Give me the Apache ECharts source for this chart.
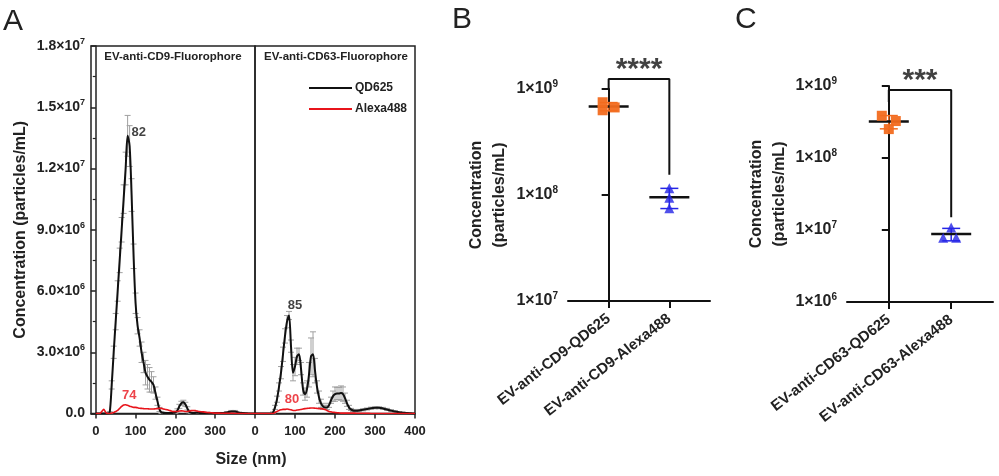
<!DOCTYPE html>
<html>
<head>
<meta charset="utf-8">
<script src="https://cdn.jsdelivr.net/npm/echarts@6/dist/echarts.min.js"></script>
<style>
  html, body { margin: 0; background: #fff; }
  #chart { width: 999px; height: 476px; }
</style>
</head>
<body>
<div id="chart"></div>
<script>
// ---- panel A: size distributions (values in 10^6 particles/mL) ----
const sizes = [0, 5, 10, 15, 20, 25, 30, 35, 40, 45,
  50, 55, 60, 65, 70, 75, 80, 85, 90, 95,
  100, 105, 110, 115, 120, 125, 130, 135, 140, 145,
  150, 155, 160, 165, 170, 175, 180, 185, 190, 195,
  200, 205, 210, 215, 220, 225, 230, 235, 240, 245,
  250, 255, 260,
  270, 280, 290, 300, 310, 320, 330, 340, 350, 360,
  370, 380, 390, 400]

const cd9QD625 = [0, 0, 0, 0, 0, 0, 0, 0.05, 1.4, 3.0,
  4.5, 6.0, 7.5, 9.0, 10.5, 12.0, 13.6, 13.1, 10.7, 7.7,
  5.4, 4.3, 3.7, 3.0, 2.5, 2.0, 1.8, 1.65, 1.55, 1.4,
  1.0, 0.6, 0.2, 0.05, 0.03, 0.02, 0.02, 0.02, 0.02, 0.03,
  0.06, 0.15, 0.35, 0.5, 0.55, 0.45, 0.25, 0.08, 0.03, 0.02,
  0.03, 0.04, 0.03,
  0.02, 0.03, 0.02, 0.02, 0.02, 0.02, 0.05, 0.1, 0.1, 0.04,
  0.02, 0.01, 0, 0]
const cd9QD625Sd = [0, 0, 0, 0, 0, 0, 0, 0.05, 0.2, 0.3,
  0.4, 0.5, 0.6, 0.6, 0.7, 0.8, 1.0, 1.0, 0.8, 0.6,
  0.5, 0.4, 0.4, 0.5, 0.5, 0.6, 0.6, 0.6, 0.5, 0.4,
  0.3, 0.2, 0.1, 0.05, 0.03, 0.03, 0.03, 0.03, 0.03, 0.03,
  0.05, 0.08, 0.1, 0.1, 0.1, 0.1, 0.08, 0.05, 0.03, 0.03,
  0.03, 0.03, 0.03,
  0.03, 0.03, 0.03, 0.03, 0.03, 0.03, 0.04, 0.05, 0.05, 0.03,
  0.02, 0.02, 0, 0]
const cd9Alexa488 = [0, 0, 0, 0.1, 0.2, 0.05, 0, 0, 0.02, 0.05,
  0.1, 0.15, 0.25, 0.35, 0.42, 0.43, 0.4, 0.36, 0.33, 0.3,
  0.3, 0.28, 0.26, 0.25, 0.24, 0.23, 0.23, 0.22, 0.22, 0.22,
  0.23, 0.24, 0.25, 0.25, 0.22, 0.2, 0.18, 0.15, 0.12, 0.1,
  0.1, 0.1, 0.12, 0.13, 0.12, 0.1, 0.1, 0.12, 0.14, 0.15,
  0.14, 0.12, 0.1,
  0.08, 0.05, 0.04, 0.02, 0.02, 0.01, 0.01, 0.01, 0, 0,
  0, 0, 0, 0]

const cd63QD625 = [0, 0, 0, 0, 0, 0, 0, 0, 0, 0.05,
  0.3, 0.7, 1.3, 2.0, 2.9, 3.8, 4.5, 4.8, 3.3, 2.0,
  2.3, 2.8, 2.9, 2.2, 1.2, 0.95, 1.2, 1.9, 2.8, 2.9,
  2.1, 1.3, 0.8, 0.5, 0.35, 0.3, 0.3, 0.4, 0.65, 0.85,
  0.95, 0.98, 0.98, 1.0, 0.95, 0.75, 0.5, 0.3, 0.2, 0.15,
  0.14, 0.14, 0.15,
  0.18, 0.22, 0.26, 0.28, 0.28, 0.25, 0.2, 0.14, 0.1, 0.06,
  0.04, 0.02, 0.01, 0]
const cd63QD625Sd = [0, 0, 0, 0, 0, 0, 0, 0, 0, 0.03,
  0.1, 0.15, 0.2, 0.3, 0.35, 0.35, 0.3, 0.2, 0.3, 0.4,
  0.45, 0.4, 0.3, 0.3, 0.3, 0.3, 0.4, 0.6, 0.9, 1.1,
  0.6, 0.3, 0.3, 0.2, 0.15, 0.1, 0.1, 0.1, 0.15, 0.25,
  0.35, 0.3, 0.3, 0.35, 0.35, 0.25, 0.15, 0.1, 0.05, 0.05,
  0.05, 0.05, 0.05,
  0.05, 0.05, 0.05, 0.05, 0.05, 0.05, 0.05, 0.05, 0.04, 0.03,
  0.02, 0.02, 0.01, 0]
const cd63Alexa488 = [0, 0, 0, 0, 0, 0, 0, 0, 0, 0,
  0.05, 0.1, 0.15, 0.18, 0.2, 0.2, 0.22, 0.2, 0.18, 0.15,
  0.15, 0.17, 0.18, 0.2, 0.22, 0.24, 0.25, 0.26, 0.27, 0.27,
  0.26, 0.25, 0.24, 0.24, 0.22, 0.2, 0.15, 0.1, 0.08, 0.06,
  0.05, 0.04, 0.03, 0.02, 0.02, 0.02, 0.02, 0.02, 0.02, 0.02,
  0.02, 0.01, 0.01,
  0.01, 0.01, 0, 0, 0, 0, 0, 0, 0, 0,
  0, 0, 0, 0]

// peak annotations [size, value in 10^6]
const cd9Peaks = [[82, 13.75], [74, 0.43]]
const cd63Peaks = [[85, 4.82], [80, 0.24]]

const sizeTicks = [0, 100, 200, 300]
const concTicks = 3e6

// ---- panels B / C: concentration per replicate ----
const bCats = ['EV-anti-CD9-QD625', 'EV-anti-CD9-Alexa488']
const bQD625 = [7.5e8, 6.3e8, 6.7e8]
const bAlexa488 = [1.16e8, 0.94e8, 0.75e8]
const bSig = '****'
const bBracket = [9.8e8, 1.24e9, 1.55e8]

const cCats = ['EV-anti-CD63-QD625', 'EV-anti-CD63-Alexa488']
const cQD625 = [3.86e8, 3.26e8, 2.52e8]
const cAlexa488 = [1.08e7, 7.8e6, 7.8e6]
const cSig = '***'
const cBracket = [6.0e8, 8.8e8, 1.5e7]

// horizontal spread of replicate dots (px)
const bQDJitter = [-6, -6, 6]
const bAlexaJitter = [0, 0, 0]
const cQDJitter = [-7, 7, 0]
const cAlexaJitter = [0, -8, 5]

const FONT = "'Liberation Sans', Arial, sans-serif"
const ORANGE = '#f26b1f'
const BLUE = '#2424e6'
const M = 1e6

function pairs(xs, ys) {
  return xs.map((x, i) => [x, ys[i] * M])
}
function withSd(xs, ys, sd) {
  return xs.map((x, i) => [x, ys[i] * M, sd[i] * M])
}
function mean(a) {
  return a.reduce((s, v) => s + v, 0) / a.length
}
function sd(a) {
  const m = mean(a)
  return Math.sqrt(a.reduce((s, v) => s + (v - m) * (v - m), 0) / (a.length - 1))
}

function sciLabel(v) {
  if (v === 0) return '{b|0.0}'
  const e = Math.floor(Math.log10(v) + 1e-9)
  return '{b|' + (v / Math.pow(10, e)).toFixed(1) + '×10}{s|' + e + '}'
}
function logLabel(v) {
  return '{b|1×10}{s|' + Math.round(Math.log10(v)) + '}'
}
function richSci(size, supSize) {
  return {
    b: { fontSize: size, fontWeight: 'bold', fontFamily: FONT, color: '#222', lineHeight: size + 4 },
    s: { fontSize: supSize, fontWeight: 'bold', fontFamily: FONT, color: '#222', lineHeight: supSize, verticalAlign: 'top' }
  }
}

// grey error bars for the size distributions
function errorBarItem(params, api) {
  const x = api.value(0)
  const y = api.value(1)
  const e = api.value(2)
  if (!e) return
  const top = api.coord([x, y + e])
  const bot = api.coord([x, Math.max(y - e, 0)])
  const w = 3
  const st = { stroke: '#a0a0a0', lineWidth: 1 }
  return {
    type: 'group',
    children: [
      { type: 'line', shape: { x1: top[0], y1: top[1], x2: bot[0], y2: bot[1] }, style: st },
      { type: 'line', shape: { x1: top[0] - w, y1: top[1], x2: top[0] + w, y2: top[1] }, style: st },
      { type: 'line', shape: { x1: bot[0] - w, y1: bot[1], x2: bot[0] + w, y2: bot[1] }, style: st }
    ]
  }
}

// mean line + SD whiskers for the dot plots
function meanSdItem(params, api) {
  const g = api.value(0)
  const m = api.value(1)
  const s = api.value(2)
  const c = api.visual('color')
  const mid = api.coord([g, m])
  const hi = api.coord([g, m + s])
  const lo = api.coord([g, m - s])
  const cap = 9
  const half = 20
  return {
    type: 'group',
    children: [
      { type: 'line', shape: { x1: hi[0], y1: hi[1], x2: lo[0], y2: lo[1] }, style: { stroke: c, lineWidth: 1.5 } },
      { type: 'line', shape: { x1: hi[0] - cap, y1: hi[1], x2: hi[0] + cap, y2: hi[1] }, style: { stroke: c, lineWidth: 1.5 } },
      { type: 'line', shape: { x1: lo[0] - cap, y1: lo[1], x2: lo[0] + cap, y2: lo[1] }, style: { stroke: c, lineWidth: 1.5 } },
      { type: 'line', shape: { x1: mid[0] - half, y1: mid[1], x2: mid[0] + half, y2: mid[1] }, style: { stroke: '#111', lineWidth: 2.5 } }
    ]
  }
}

function dots(group, values, jitter) {
  return values.map((v, i) => ({ value: [group, v], symbolOffset: [jitter[i], 0] }))
}

function lineSeries(name, data, axis, color, width) {
  return {
    name: name,
    type: 'line',
    xAxisIndex: axis,
    yAxisIndex: axis,
    data: data,
    smooth: 0.3,
    symbol: 'none',
    lineStyle: { color: color, width: width },
    itemStyle: { color: color },
    z: 3
  }
}

function peakLabels(peaks, axis, offsets) {
  return {
    type: 'scatter',
    xAxisIndex: axis,
    yAxisIndex: axis,
    symbolSize: 0,
    silent: true,
    z: 5,
    data: peaks.map((p, i) => ({
      value: [p[0], p[1] * M],
      label: {
        show: true,
        formatter: String(p[0]),
        position: offsets[i].pos,
        offset: offsets[i].off,
        distance: 3,
        fontSize: 13,
        fontWeight: 'bold',
        fontFamily: FONT,
        color: i === 0 ? '#111' : '#e8141b'
      }
    }))
  }
}

function dotPanel(idx, cats, qd, alexa, qdJit, alexaJit, bracket, sig) {
  return [
    {
      type: 'custom',
      xAxisIndex: idx, yAxisIndex: idx,
      renderItem: meanSdItem,
      itemStyle: { color: ORANGE },
      data: [[0, mean(qd), sd(qd)]],
      z: 2
    },
    {
      type: 'custom',
      xAxisIndex: idx, yAxisIndex: idx,
      renderItem: meanSdItem,
      itemStyle: { color: BLUE },
      data: [[1, mean(alexa), sd(alexa)]],
      z: 2
    },
    {
      type: 'scatter',
      xAxisIndex: idx, yAxisIndex: idx,
      symbol: 'rect', symbolSize: 10,
      itemStyle: { color: ORANGE, opacity: 0.95 },
      data: dots(0, qd, qdJit),
      z: 4
    },
    {
      type: 'scatter',
      xAxisIndex: idx, yAxisIndex: idx,
      symbol: 'triangle', symbolSize: 10,
      itemStyle: { color: BLUE },
      data: dots(1, alexa, alexaJit),
      z: 4
    },
    {
      type: 'line',
      xAxisIndex: idx, yAxisIndex: idx,
      data: [[0, bracket[0]], [0, bracket[1]], [1, bracket[1]], [1, bracket[2]]],
      symbol: 'none',
      clip: false,
      lineStyle: { color: '#111', width: 2 },
      z: 3
    },
    {
      type: 'scatter',
      xAxisIndex: idx, yAxisIndex: idx,
      symbolSize: 0,
      clip: false,
      silent: true,
      data: [[0.5, bracket[1]]],
      label: {
        show: true, formatter: sig, position: 'top', distance: -6,
        fontSize: 30, fontWeight: 'bold', fontFamily: FONT, color: '#111'
      }
    }
  ]
}

const sizeX = (gi, min, labels) => ({
  type: 'value',
  gridIndex: gi,
  min: min,
  max: 400,
  axisLine: { lineStyle: { color: '#222', width: 1.5 } },
  axisTick: { customValues: labels, length: 5, lineStyle: { color: '#222', width: 1.5 } },
  axisLabel: {
    customValues: labels, margin: 11,
    fontSize: 13, fontWeight: 'bold', fontFamily: FONT, color: '#222'
  },
  splitLine: { show: false }
})

const catX = (gi, cats) => ({
  type: 'value',
  gridIndex: gi,
  min: -0.67,
  max: 1.67,
  axisLine: { lineStyle: { color: '#111', width: 2 } },
  axisTick: { customValues: [0, 1], length: 7, lineStyle: { color: '#111', width: 2 } },
  axisLabel: {
    customValues: [0, 1],
    formatter: v => cats[Math.round(v)],
    rotate: 38, margin: 16,
    fontSize: 15, fontWeight: 'bold', fontFamily: FONT, color: '#222'
  },
  splitLine: { show: false }
})

const logY = (gi, min, gap) => ({
  type: 'log',
  logBase: 10,
  gridIndex: gi,
  min: min,
  max: 1e9,
  name: 'Concentration\n(particles/mL)',
  nameLocation: 'middle',
  nameRotate: 90,
  nameGap: gap,
  nameTextStyle: { fontSize: 16, fontWeight: 'bold', fontFamily: FONT, color: '#222', lineHeight: 23 },
  axisLine: { show: true, lineStyle: { color: '#111', width: 2 } },
  axisTick: { length: 7, lineStyle: { color: '#111', width: 2 } },
  axisLabel: { formatter: logLabel, margin: 10, rich: richSci(16, 10) },
  minorTick: { show: false },
  splitLine: { show: false }
})

const chart = echarts.init(document.getElementById('chart'))

const option = {
  animation: false,
  backgroundColor: '#fff',
  grid: [
    { left: 91, top: 46, width: 164, height: 367.5, show: true, borderColor: '#222', borderWidth: 1.5 },
    { left: 255, top: 46, width: 160, height: 367.5, show: true, borderColor: '#222', borderWidth: 1.5 },
    { left: 568, top: 89, width: 142, height: 212 },
    { left: 847, top: 86, width: 146, height: 216 }
  ],
  legend: {
    data: ['QD625', 'Alexa488'],
    orient: 'vertical',
    left: 309,
    top: 81,
    padding: 0,
    icon: 'rect',
    itemWidth: 43,
    itemHeight: 2,
    itemGap: 7,
    textStyle: { fontSize: 12, fontWeight: 'bold', fontFamily: FONT, color: '#222', padding: [0, 0, 0, -2], lineHeight: 14 }
  },
  xAxis: [
    sizeX(0, -12, sizeTicks),
    sizeX(1, 0, sizeTicks.concat([400])),
    catX(2, bCats),
    catX(3, cCats)
  ],
  yAxis: [
    {
      type: 'value',
      gridIndex: 0,
      min: 0,
      max: 1.8e7,
      interval: concTicks,
      name: 'Concentration (particles/mL)',
      nameLocation: 'middle',
      nameRotate: 90,
      nameGap: 62,
      nameTextStyle: { fontSize: 16, fontWeight: 'bold', fontFamily: FONT, color: '#222' },
      axisLine: { show: true, lineStyle: { color: '#222', width: 1.5 } },
      axisTick: { show: true, length: 5, lineStyle: { color: '#222', width: 1.5 } },
      minorTick: { show: true, splitNumber: 2, length: 3, lineStyle: { color: '#222', width: 1.2 } },
      axisLabel: { formatter: sciLabel, margin: 6, rich: richSci(14, 9) },
      splitLine: { show: false }
    },
    { type: 'value', gridIndex: 1, min: 0, max: 1.8e7, interval: concTicks, show: false, splitLine: { show: false } },
    logY(2, 1e7, 57),
    logY(3, 1e6, 50)
  ],
  graphic: [
    { type: 'text', left: 3, top: 7, style: { text: 'A', fontSize: 30, fontFamily: FONT, fill: '#222' } },
    { type: 'text', left: 452, top: 5, style: { text: 'B', fontSize: 30, fontFamily: FONT, fill: '#222' } },
    { type: 'text', left: 735, top: 5, style: { text: 'C', fontSize: 30, fontFamily: FONT, fill: '#222' } },
    { type: 'text', x: 251, y: 460, style: { text: 'Size (nm)', fontSize: 16, fontWeight: 'bold', fontFamily: FONT, fill: '#222', align: 'center', verticalAlign: 'middle' } },
    { type: 'text', x: 173, y: 57, style: { text: 'EV-anti-CD9-Fluorophore', fontSize: 11.5, fontWeight: 'bold', fontFamily: FONT, fill: '#222', align: 'center', verticalAlign: 'middle' } },
    { type: 'text', x: 336, y: 57, style: { text: 'EV-anti-CD63-Fluorophore', fontSize: 11.5, fontWeight: 'bold', fontFamily: FONT, fill: '#222', align: 'center', verticalAlign: 'middle' } }
  ],
  series: [
    {
      type: 'custom', xAxisIndex: 0, yAxisIndex: 0,
      renderItem: errorBarItem, data: withSd(sizes, cd9QD625, cd9QD625Sd), z: 1, silent: true
    },
    {
      type: 'custom', xAxisIndex: 1, yAxisIndex: 1,
      renderItem: errorBarItem, data: withSd(sizes, cd63QD625, cd63QD625Sd), z: 1, silent: true
    },
    lineSeries('QD625', pairs(sizes, cd9QD625), 0, '#111', 2),
    lineSeries('Alexa488', pairs(sizes, cd9Alexa488), 0, '#e8141b', 1.6),
    lineSeries('QD625', pairs(sizes, cd63QD625), 1, '#111', 2),
    lineSeries('Alexa488', pairs(sizes, cd63Alexa488), 1, '#e8141b', 1.6),
    peakLabels(cd9Peaks, 0, [{ pos: 'right', off: [0, 0] }, { pos: 'top', off: [4, 0] }]),
    peakLabels(cd63Peaks, 1, [{ pos: 'top', off: [6, 0] }, { pos: 'top', off: [5, 0] }])
  ].concat(
    dotPanel(2, bCats, bQD625, bAlexa488, bQDJitter, bAlexaJitter, bBracket, bSig),
    dotPanel(3, cCats, cQD625, cAlexa488, cQDJitter, cAlexaJitter, cBracket, cSig)
  )
}

chart.setOption(option)
</script>
</body>
</html>
